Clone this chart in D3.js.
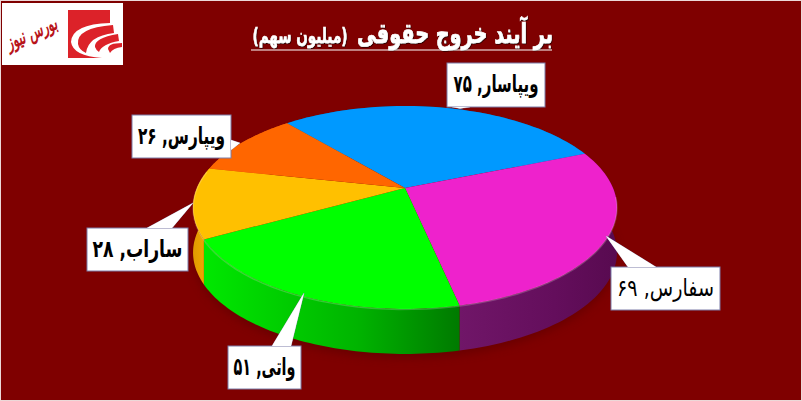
<!DOCTYPE html>
<html lang="fa">
<head>
<meta charset="UTF-8">
<title>بر آیند خروج حقوقی</title>
<script src="https://d3js.org/d3.v7.min.js"></script>
<style>
  html, body { margin: 0; padding: 0; background: #fff; }
  svg { display: block; }
  text { font-family: "DejaVu Sans", "Noto Sans", sans-serif; }
</style>
</head>
<body>
<svg id="chart" width="802" height="401"></svg>
<script>
// data, clockwise from the top left of the pie
var categories = ["ویپاسار", "سفارس", "واتی", "ساراب", "ویپارس"];
var seriesValues = [75, 69, 51, 28, 26];
var titleMain = "بر آیند خروج حقوقی";
var titleUnit = "(میلیون سهم)";
var logoText = "بورس نیوز";

// colours of each slice: top face, wall left, middle, right
var topColors = ["#0099ff", "#ee22cc", "#00ff00", "#ffc000", "#ff6600"];
var wallLeft = ["#005a99", "#701668", "#00e800", "#e09a00", "#cc5200"];
var wallMid = ["#005a99", "#640e5c", "#00b400", "#eea400", "#cc5200"];
var wallRight = ["#005a99", "#580a50", "#007a00", "#ffb000", "#cc5200"];

// callout boxes: box x, y, w, h, text width, then pointer base and tip
var callouts = [
  { box: [447, 63, 98, 44], textW: 85, base: [[452, 107], [470, 107]], tip: [460, 108.5], bold: true },
  { box: [611, 267, 109, 43], textW: 97, base: [[628, 267], [656, 267]], tip: [606, 236], bold: false },
  { box: [228, 346, 73, 43], textW: 62, base: [[272, 346], [291, 346]], tip: [304, 293], bold: true },
  { box: [87, 228, 101, 43], textW: 90, base: [[147, 228], [172, 228]], tip: [193, 203], bold: true },
  { box: [132, 115, 99, 43], textW: 87, base: [[231, 140], [231, 150]], tip: [240, 143], bold: true }
];

var width = 802, height = 401;
var svg = d3.select("#chart");
var defs = svg.append("defs");

svg.append("rect").attr("x", 0.5).attr("y", 0.5).attr("width", width - 1).attr("height", height - 1)
  .attr("fill", "#7f0000").attr("stroke", "#ecd8d8");

// tilted pie: unit circle through a small perspective so the apex sits off centre
var cx = 405, cy = 188, rx = 208, ry = 97.7, persp = 0.192, depth = 45;
function project(a, dy) {
  var X = Math.sin(a), Y = Math.cos(a), s = 1 / (1 + persp * Y);
  return [cx + rx * X * s, cy - ry * Y * s + (dy || 0)];
}
function rim(a0, a1, dy) {
  return d3.range(0, 61).map(function(i) { return project(a0 + (a1 - a0) * i / 60, dy); });
}

var startDeg = -40.5;
var pie = d3.pie().sort(null)
  .startAngle(startDeg * Math.PI / 180)
  .endAngle((360 + startDeg) * Math.PI / 180);
var arcs = pie(seriesValues);
var line = d3.line();

// soft shadow under the pie
defs.append("filter").attr("id", "blur").append("feGaussianBlur").attr("stdDeviation", 5);
svg.append("path")
  .attr("d", line(rim(0, 2 * Math.PI, depth + 4)) + "Z")
  .attr("fill", "#5a0000").attr("opacity", 0.6).attr("filter", "url(#blur)");

// walls first, the top faces cover whatever is behind
arcs.forEach(function(d, i) {
  var top = rim(d.startAngle, d.endAngle, 0);
  var bottom = rim(d.startAngle, d.endAngle, depth).reverse();
  var xs = top.map(function(p) { return p[0]; });
  var grad = defs.append("linearGradient").attr("id", "wall" + i)
    .attr("gradientUnits", "userSpaceOnUse")
    .attr("x1", d3.min(xs)).attr("x2", d3.max(xs)).attr("y1", 0).attr("y2", 0);
  grad.append("stop").attr("offset", 0).attr("stop-color", wallLeft[i]);
  grad.append("stop").attr("offset", 0.6).attr("stop-color", wallMid[i]);
  grad.append("stop").attr("offset", 1).attr("stop-color", wallRight[i]);
  svg.append("path")
    .attr("d", line(top.concat(bottom)) + "Z")
    .attr("fill", "url(#wall" + i + ")");
});

arcs.forEach(function(d, i) {
  svg.append("path")
    .attr("d", line([[cx, cy]].concat(rim(d.startAngle, d.endAngle, 0))) + "Z")
    .attr("fill", topColors[i]);
});

// faint bevel along the front edge
svg.append("path")
  .attr("d", line(rim(95 * Math.PI / 180, 280 * Math.PI / 180, 0.5)))
  .attr("fill", "none").attr("stroke", "#fff").attr("stroke-opacity", 0.2).attr("stroke-width", 1.5);

// squeeze a text horizontally to the width it has in the picture
function fitText(sel, x, y, w) {
  var k = w / sel.node().getComputedTextLength();
  sel.attr("transform", "translate(" + x + "," + y + ") scale(" + k + ",1)");
}

// callouts
var nf = new Intl.NumberFormat("fa-IR", { useGrouping: false });
callouts.forEach(function(c, i) {
  var g = svg.append("g");
  g.append("path").attr("d", line([c.base[0], c.tip, c.base[1]]) + "Z")
    .attr("fill", "#fff").attr("stroke", "#8a8ab0").attr("stroke-width", 0.6);
  g.append("rect")
    .attr("x", c.box[0]).attr("y", c.box[1]).attr("width", c.box[2]).attr("height", c.box[3])
    .attr("fill", "#fff").attr("stroke", "#7c7ca8");
  g.append("path").attr("d", line([c.base[0], c.tip, c.base[1]]) + "Z").attr("fill", "#fff");
  var t = g.append("text")
    .attr("text-anchor", "middle").attr("direction", "rtl")
    .attr("font-size", 24).attr("font-weight", c.bold ? "bold" : "normal")
    .attr("fill", "#000")
    .text(categories[i] + ", " + nf.format(seriesValues[i]));
  fitText(t, c.box[0] + c.box[2] / 2, c.box[1] + c.box[3] / 2 + 7, c.textW);
});

// title
defs.append("filter").attr("id", "titleShadow").append("feDropShadow")
  .attr("dx", 1).attr("dy", 1).attr("stdDeviation", 0.6).attr("flood-color", "#300000");
var tMain = svg.append("text").attr("text-anchor", "middle").attr("direction", "rtl")
  .attr("fill", "#fff").attr("stroke", "#fff").attr("stroke-width", 0.7)
  .attr("font-weight", "bold").attr("font-size", 28).attr("filter", "url(#titleShadow)").text(titleMain);
fitText(tMain, 455, 43, 196);
var tUnit = svg.append("text").attr("text-anchor", "middle").attr("direction", "rtl")
  .attr("fill", "#fff").attr("stroke", "#fff").attr("stroke-width", 0.5)
  .attr("font-weight", "bold").attr("font-size", 21).attr("filter", "url(#titleShadow)").text(titleUnit);
fitText(tUnit, 300, 43, 95);
svg.append("line").attr("x1", 251).attr("x2", 552).attr("y1", 50).attr("y2", 50)
  .attr("stroke", "#fff").attr("stroke-width", 1.2);

// logo
var logo = svg.append("g");
logo.append("rect").attr("x", 2).attr("y", 3).attr("width", 121).attr("height", 62).attr("fill", "#fff");
logo.append("rect").attr("x", 68).attr("y", 10).attr("width", 42).attr("height", 48).attr("fill", "#dc2229");
logo.append("path").attr("d", "M110,23 Q72,24 71,42 Q73,56 102,58 L110,58 L122,48 L122,30 L110,28Z").attr("fill", "#fff");
logo.append("path").attr("d", "M113,25 Q76,28 78,44 Q79,50 86,53 Q88,36 114,33Z").attr("fill", "#dc2229");
logo.append("path").attr("d", "M118,34 Q94,38 95,47 Q96,50 99,52 Q102,44 119,41Z").attr("fill", "#dc2229");
logo.append("path").attr("d", "M122,43 Q108,43 108,49 Q109,51 110,53 Q113,48 122,47Z").attr("fill", "#dc2229");
var tLogo = logo.append("text").attr("text-anchor", "middle").attr("direction", "rtl")
  .attr("font-size", 20).attr("font-weight", "bold").attr("font-style", "italic")
  .attr("fill", "#b8141a").text(logoText);
var logoK = 54 / tLogo.node().getComputedTextLength();
tLogo.attr("transform", "translate(34,39) rotate(-24) scale(" + logoK + ",1)");
</script>
</body>
</html>
